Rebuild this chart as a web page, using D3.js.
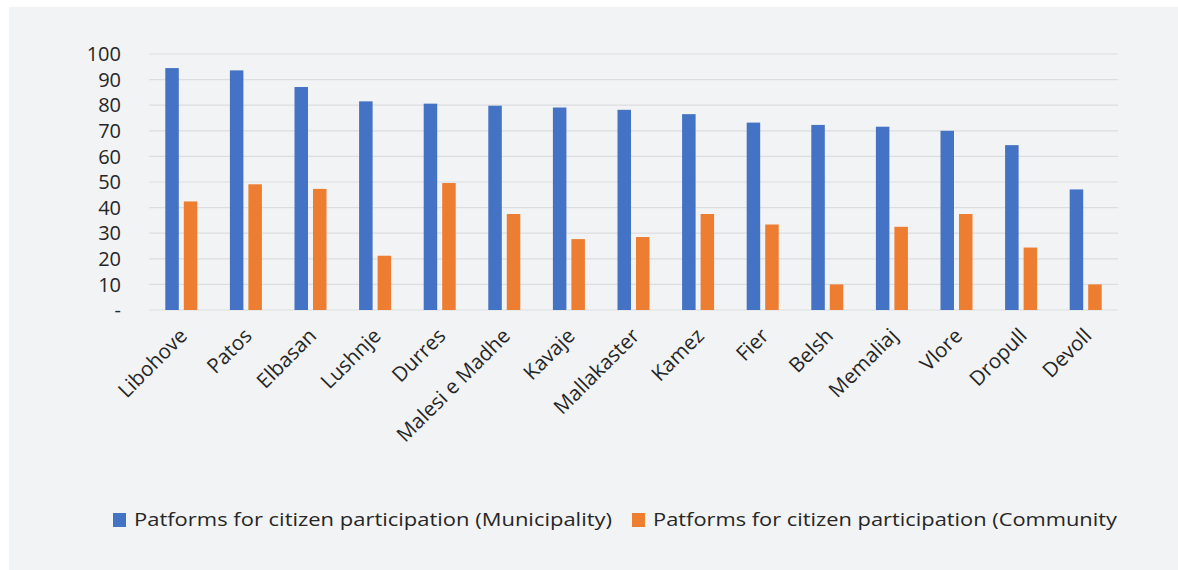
<!DOCTYPE html>
<html>
<head>
<meta charset="utf-8">
<script src="https://cdn.jsdelivr.net/npm/d3@7"></script>
<style>
  body { margin: 0; background: #fff; }
  text { font-family: "Open Sans", sans-serif; fill: #262626; }
</style>
</head>
<body>
<div id="chart"></div>
<script>
var categories = ['Libohove', 'Patos', 'Elbasan', 'Lushnje', 'Durres', 'Malesi e Madhe', 'Kavaje',
  'Mallakaster', 'Kamez', 'Fier', 'Belsh', 'Memaliaj', 'Vlore', 'Dropull', 'Devoll'];
var municipality = [94.5, 93.6, 87.1, 81.5, 80.6, 79.8, 79.1, 78.2, 76.5, 73.2, 72.3, 71.6, 70, 64.4, 47.1];
var community = [42.4, 49.1, 47.3, 21.2, 49.6, 37.5, 27.7, 28.5, 37.5, 33.4, 10, 32.5, 37.5, 24.4, 10];
var seriesNames = ['Patforms for citizen participation (Municipality)', 'Patforms for citizen participation (Community'];
var yTicks = [0, 10, 20, 30, 40, 50, 60, 70, 80, 90, 100];

var width = 1178, height = 570;
var margin = {left: 149, right: 60, top: 54, bottom: 260};
var colors = ['#4472C4', '#ED7D31'];

var svg = d3.select('#chart').append('svg')
  .attr('width', width)
  .attr('height', height);

svg.append('rect')
  .attr('x', 9).attr('y', 7)
  .attr('width', width - 9).attr('height', height - 7)
  .attr('fill', '#f2f3f5');

var x = d3.scaleBand()
  .domain(categories)
  .range([margin.left, width - margin.right])
  .paddingInner(0)
  .paddingOuter(0);

var y = d3.scaleLinear()
  .domain([0, 100])
  .range([height - margin.bottom, margin.top]);

// grid lines
svg.append('g')
  .selectAll('line')
  .data(yTicks)
  .enter()
  .append('line')
  .attr('x1', margin.left)
  .attr('x2', width - margin.right)
  .attr('y1', function(d) { return y(d); })
  .attr('y2', function(d) { return y(d); })
  .attr('stroke', '#dcdddf')
  .attr('stroke-width', 1.2);

// y labels
svg.append('g')
  .selectAll('text')
  .data(yTicks)
  .enter()
  .append('text')
  .attr('x', 121)
  .attr('y', function(d) { return y(d); })
  .attr('dy', '0.36em')
  .attr('text-anchor', 'end')
  .style('font-size', '20px')
  .text(function(d) { return d === 0 ? '-' : d; });

var barW = 13.5, gap = 5;
var groups = svg.append('g')
  .selectAll('g')
  .data(categories)
  .enter()
  .append('g')
  .attr('transform', function(d) { return 'translate(' + (x(d) + x.bandwidth() / 2) + ',0)'; });

groups.append('rect')
  .attr('x', -barW - gap / 2)
  .attr('width', barW)
  .attr('y', function(d, i) { return y(municipality[i]); })
  .attr('height', function(d, i) { return y(0) - y(municipality[i]); })
  .attr('fill', colors[0]);

groups.append('rect')
  .attr('x', gap / 2)
  .attr('width', barW)
  .attr('y', function(d, i) { return y(community[i]); })
  .attr('height', function(d, i) { return y(0) - y(community[i]); })
  .attr('fill', colors[1]);

// x labels
groups.append('text')
  .attr('transform', 'translate(-3,' + (y(0) + 17) + ') rotate(-45)')
  .attr('text-anchor', 'end')
  .attr('dy', '0.7em')
  .style('font-size', '20.5px')
  .text(function(d) { return d; });

// legend
var legendPos = [113, 632];
var legend = svg.append('g')
  .selectAll('g')
  .data(seriesNames)
  .enter()
  .append('g')
  .attr('transform', function(d, i) { return 'translate(' + legendPos[i] + ',513)'; });

legend.append('rect')
  .attr('width', 13).attr('height', 14)
  .attr('fill', function(d, i) { return colors[i]; });

legend.append('text')
  .attr('x', 21)
  .attr('y', 7)
  .attr('dy', '0.36em')
  .style('font-size', '18px')
  .attr('textLength', function(d, i) { return i === 0 ? 478 : 464; })
  .attr('lengthAdjust', 'spacingAndGlyphs')
  .text(function(d) { return d; });
</script>
</body>
</html>
